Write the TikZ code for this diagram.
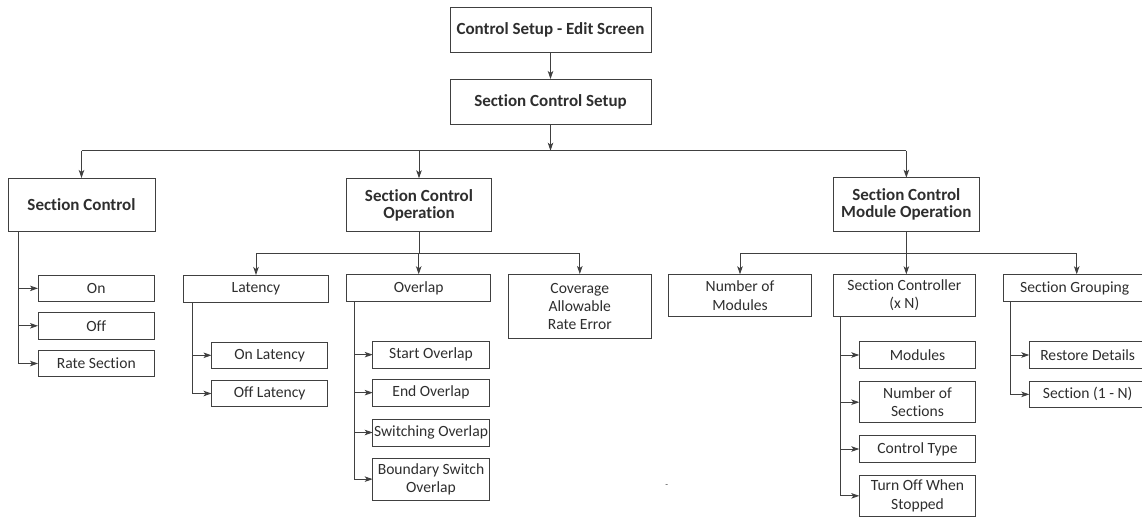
\documentclass[tikz,border=0pt]{standalone}
\usepackage{fontspec}
\setmainfont{Carlito}[Ligatures=NoCommon]
\usetikzlibrary{arrows.meta}
\definecolor{ln}{HTML}{404040}
\definecolor{tx}{HTML}{2E2E2E}
\tikzset{
  box/.style={draw=ln, line width=0.9pt, inner sep=0pt, outer sep=0pt, align=center, text=tx, font=\fontsize{15.6}{18.3}\selectfont},
  head/.style={box, font=\fontsize{17}{16.8}\bfseries\selectfont},
  con/.style={draw=ln, line width=0.9pt},
  arr/.style={con, -{Stealth[length=8pt,width=5.5pt,inset=2pt]}},
}
\newcommand{\bx}[7]{%
  \node[#1, minimum width={(#5-#3)*1pt}, minimum height={(#6-#4)*1pt}] (#2) at ({(#3+#5)/2}, {-(#4+#6)/2}) {#7};}
\begin{document}
\begin{tikzpicture}[x=1pt,y=1pt]
\useasboundingbox (0,0) rectangle (1142,-517);
% top levels
\bx{head}{top}{450}{7}{651}{52}{Control Setup - Edit Screen}
\bx{head}{scs}{450}{79}{651}{124}{Section Control Setup}
\bx{head}{sc}{8}{178}{155}{231}{Section Control}
\bx{head}{sco}{346.3}{178.3}{491.7}{231.7}{Section Control\\Operation}
\bx{head}{scmo}{833.7}{177.7}{979}{231.3}{Section Control\\Module Operation}
% section control children
\bx{box}{on}{38}{275}{154.5}{301.7}{On}
\bx{box}{off}{38}{312.3}{154.5}{339.3}{Off}
\bx{box}{rate}{38}{350.3}{154.5}{376.7}{Rate Section}
% SCO children
\bx{box}{lat}{183.7}{275}{328.3}{302.3}{Latency}
\bx{box}{ovl}{346.7}{274.3}{490.7}{301.7}{Overlap}
\bx{box}{cov}{508.3}{274}{651.3}{338.7}{Coverage\\Allowable\\Rate Error}
\bx{box}{onl}{211.5}{342.3}{327.8}{368.3}{On Latency}
\bx{box}{offl}{211.5}{380.3}{327.8}{406.7}{Off Latency}
\bx{box}{sto}{372.7}{341.3}{489.3}{368}{Start Overlap}
\bx{box}{eno}{372.7}{379.3}{489.3}{406}{End Overlap}
\bx{box}{swo}{372.7}{419}{489.3}{446}{Switching Overlap}
\bx{box}{bso}{372.7}{458.3}{489.3}{500}{Boundary Switch\\Overlap}
% SCMO children
\bx{box}{nom}{668.3}{274.3}{811.7}{316.7}{Number of\\Modules}
\bx{box}{sctl}{833}{274.3}{975.7}{316.7}{Section Controller\\(x N)}
\bx{box}{sg}{1003.3}{274.3}{1146}{301.7}{Section Grouping}
\bx{box}{mod}{859.3}{341.7}{975.7}{368.3}{Modules}
\bx{box}{nos}{859.3}{381.7}{975.7}{422.7}{Number of\\Sections}
\bx{box}{ctt}{859.3}{435.7}{975.7}{462.3}{Control Type}
\bx{box}{tow}{859.3}{475}{975.7}{516.7}{Turn Off When\\Stopped}
\bx{box}{rd}{1029.3}{341.7}{1146}{368.3}{Restore Details}
\bx{box}{s1n}{1029.3}{381}{1146}{407.7}{Section (1 - N)}
\node[text=ln, inner sep=0pt, font=\fontsize{9}{9}\selectfont] (dash) at (666.7,-485.7) {-};
% coordinates for buses
\coordinate (bus1) at (0,-150.7);
\coordinate (bus2) at (0,-253.3);
\coordinate (sgin) at (1076.7,-274.3);
% connectors
\draw[arr] (top.south) -- (scs.north);
\draw[arr] (scs.south) -- (scs.south |- bus1);
\draw[con] (sc.north |- bus1) -- (scmo.north |- bus1);
\draw[arr] (sc.north |- bus1) -- (sc.north);
\draw[arr] (sco.north |- bus1) -- (sco.north);
\draw[arr] (scmo.north |- bus1) -- (scmo.north);
% section control branch
\draw[arr] ([xshift=10pt]sc.south west) |- (on.west);
\draw[arr] ([xshift=10pt]sc.south west) |- (off.west);
\draw[arr] ([xshift=10pt]sc.south west) |- (rate.west);
% SCO bus
\draw[con] (sco.south) -- (sco.south |- bus2);
\draw[con] (lat.north |- bus2) -- (cov.north |- bus2);
\draw[arr] (lat.north |- bus2) -- (lat.north);
\draw[arr] (ovl.north |- bus2) -- (ovl.north);
\draw[arr] (cov.north |- bus2) -- (cov.north);
\draw[arr] ([xshift=8.6pt]lat.south west) |- (onl.west);
\draw[arr] ([xshift=8.6pt]lat.south west) |- (offl.west);
\draw[arr] ([xshift=7.3pt]ovl.south west) |- (sto.west);
\draw[arr] ([xshift=7.3pt]ovl.south west) |- (eno.west);
\draw[arr] ([xshift=7.3pt]ovl.south west) |- (swo.west);
\draw[arr] ([xshift=7.3pt]ovl.south west) |- (bso.west);
% SCMO bus
\draw[con] (scmo.south) -- (scmo.south |- bus2);
\draw[con] (nom.north |- bus2) -- (sgin |- bus2);
\draw[arr] (nom.north |- bus2) -- (nom.north);
\draw[arr] (scmo.south |- bus2) -- (scmo.south |- sctl.north);
\draw[arr] (sgin |- bus2) -- (sgin);
\draw[arr] ([xshift=7pt]sctl.south west) |- (mod.west);
\draw[arr] ([xshift=7pt]sctl.south west) |- (nos.west);
\draw[arr] ([xshift=7pt]sctl.south west) |- (ctt.west);
\draw[arr] ([xshift=7pt]sctl.south west) |- (tow.west);
\draw[arr] ([xshift=6.7pt]sg.south west) |- (rd.west);
\draw[arr] ([xshift=6.7pt]sg.south west) |- (s1n.west);
\end{tikzpicture}
\end{document}
